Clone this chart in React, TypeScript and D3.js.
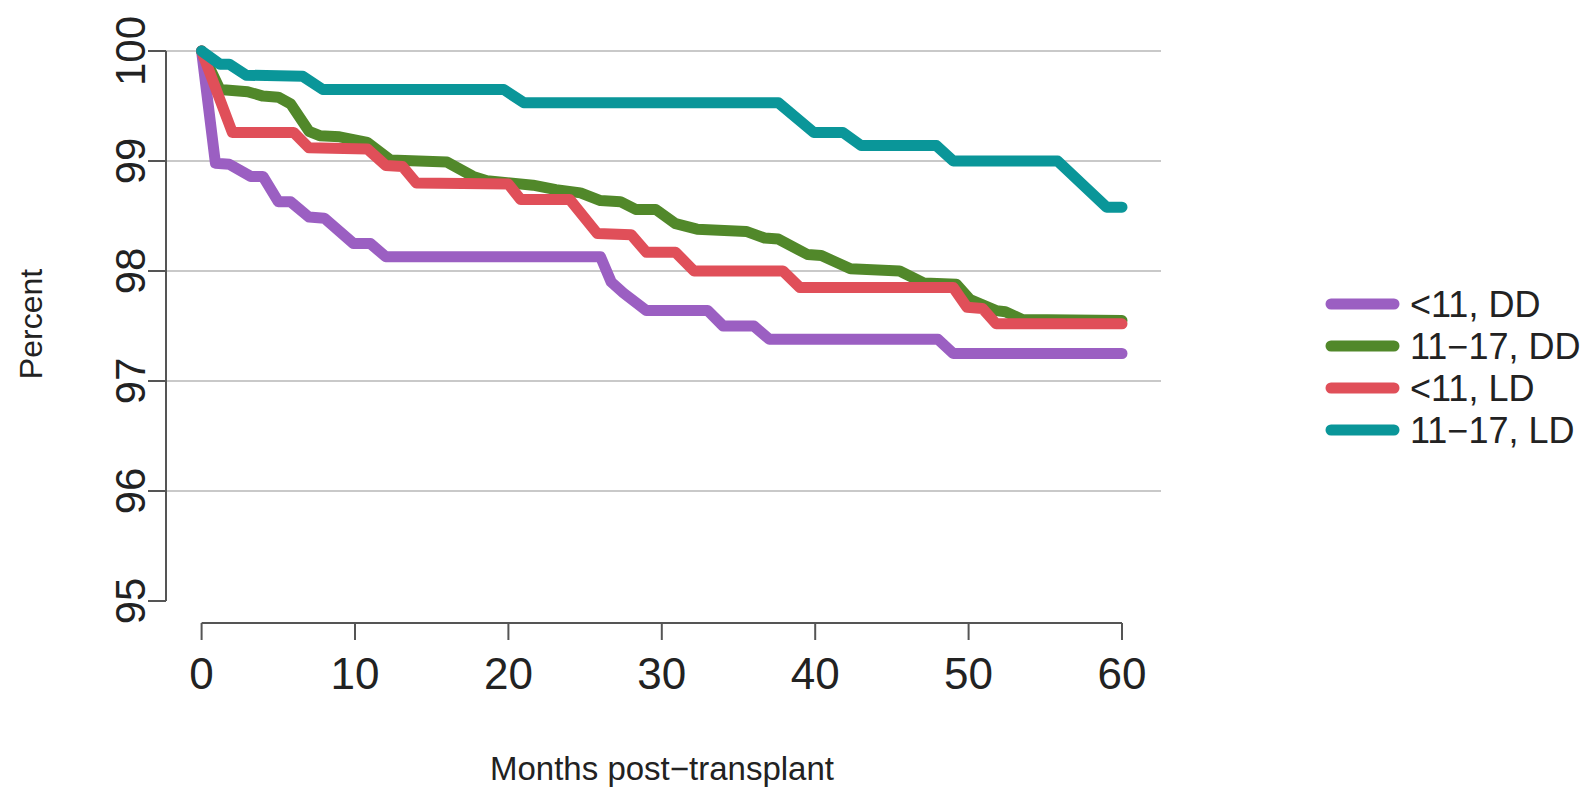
import React from 'react';
import * as d3 from 'd3';

// survival curves: [month, percent]
const lt11DD: [number, number][] = [
  [0, 100], [0.9, 98.98], [1.8, 98.97], [3.2, 98.86], [4, 98.86], [5, 98.63], [5.8, 98.63],
  [7, 98.49], [8, 98.48], [9.9, 98.25], [11, 98.25], [12, 98.13], [26, 98.13], [26.7, 97.9],
  [27.5, 97.8], [29, 97.64], [33, 97.64], [34, 97.5], [36, 97.5], [37, 97.38], [48, 97.38],
  [49, 97.25], [60, 97.25],
];
const a11to17DD: [number, number][] = [
  [0, 100], [1.2, 99.65], [3, 99.63], [4, 99.59], [5, 99.58], [5.8, 99.52], [7, 99.27],
  [7.7, 99.23], [9, 99.22], [10.8, 99.17], [12.3, 99.01], [16, 98.99], [17.7, 98.86],
  [18.6, 98.82], [21.6, 98.78], [23.1, 98.74], [24.7, 98.71], [26, 98.64], [27.3, 98.63],
  [28.3, 98.56], [29.6, 98.56], [30.9, 98.43], [32.3, 98.38], [35.5, 98.36], [36.7, 98.3],
  [37.6, 98.29], [39.5, 98.15], [40.4, 98.14], [42.3, 98.02], [45.5, 98.0], [47.1, 97.89],
  [49.2, 97.88], [50.1, 97.74], [51.8, 97.64], [52.4, 97.63], [53.5, 97.56], [60, 97.55],
];
const lt11LD: [number, number][] = [
  [0, 100], [2, 99.26], [6, 99.26], [7, 99.12], [10.8, 99.11], [12, 98.96], [13.1, 98.95],
  [14, 98.8], [20, 98.79], [20.8, 98.65], [24, 98.65], [25.8, 98.34], [28, 98.33], [29, 98.17],
  [30.9, 98.17], [32.1, 98.0], [37.9, 98.0], [39, 97.85], [49, 97.85], [49.9, 97.67],
  [50.9, 97.66], [51.8, 97.52], [60, 97.52],
];
const a11to17LD: [number, number][] = [
  [0, 100], [1.2, 99.88], [1.8, 99.88], [2.9, 99.78], [6.6, 99.77], [7.9, 99.65], [19.7, 99.65],
  [21, 99.53], [37.6, 99.53], [39.9, 99.26], [41.8, 99.26], [43, 99.14], [47.9, 99.14],
  [49, 99.0], [55.8, 99.0], [59, 98.58], [60, 98.58],
];

const seriesNames = ['<11, DD', '11\u221217, DD', '<11, LD', '11\u221217, LD'];
const seriesData = [lt11DD, a11to17DD, lt11LD, a11to17LD];
const seriesColors = ['#9b5fc2', '#51882a', '#e04f59', '#0a9699'];

const yTicks = [95, 96, 97, 98, 99, 100];
const yGrid = [96, 97, 98, 99, 100];
const xTicks = [0, 10, 20, 30, 40, 50, 60];

const W = 1596;
const H = 790;

export default function App() {
  const x = d3.scaleLinear().domain([0, 60]).range([201.6, 1122]);
  const y = d3.scaleLinear().domain([95, 100]).range([601, 51]);
  const line = d3.line<[number, number]>()
    .x(d => x(d[0]))
    .y(d => y(d[1]));

  const axisX = 166;
  const xAxisY = 623;
  const font = "'Liberation Sans', Arial, sans-serif";

  return (
    <svg width={W} height={H} style={{ position: 'absolute', left: 0, top: 0, background: '#fff' }}
      fontFamily={font}>
      {/* grid */}
      {yGrid.map(t => (
        <line key={'g' + t} x1={axisX} x2={1161} y1={y(t)} y2={y(t)} stroke="#c9c9c9" strokeWidth={2} />
      ))}
      {/* y axis */}
      <line x1={axisX} x2={axisX} y1={y(95)} y2={y(100)} stroke="#555" strokeWidth={2} />
      {yTicks.map(t => (
        <g key={'y' + t}>
          <line x1={148} x2={axisX} y1={y(t)} y2={y(t)} stroke="#555" strokeWidth={2} />
          <text transform={`translate(145,${y(t)}) rotate(-90)`} textAnchor="middle"
            fontSize={42} fill="#222">{t}</text>
        </g>
      ))}
      <text transform={`translate(42,${324}) rotate(-90)`} textAnchor="middle" fontSize={32} fill="#222">Percent</text>

      {/* x axis */}
      <line x1={x(0)} x2={x(60)} y1={xAxisY} y2={xAxisY} stroke="#555" strokeWidth={2} />
      {xTicks.map(t => (
        <g key={'x' + t}>
          <line x1={x(t)} x2={x(t)} y1={xAxisY} y2={xAxisY + 17} stroke="#555" strokeWidth={2} />
          <text x={x(t)} y={689} textAnchor="middle" fontSize={44} fill="#222">{t}</text>
        </g>
      ))}
      <text x={662} y={780} textAnchor="middle" fontSize={33} fill="#222">Months post{'\u2212'}transplant</text>

      {/* curves */}
      {seriesData.map((d, i) => (
        <path key={'s' + i} d={line(d) || ''} fill="none" stroke={seriesColors[i]} strokeWidth={11}
          strokeLinecap="round" strokeLinejoin="round" />
      ))}

      {/* legend */}
      {seriesNames.map((n, i) => {
        const ly = 304 + i * 42;
        return (
          <g key={'l' + i}>
            <line x1={1331} x2={1394} y1={ly} y2={ly} stroke={seriesColors[i]} strokeWidth={11} strokeLinecap="round" />
            <text x={1410} y={ly + 13} fontSize={36} fill="#222">{n}</text>
          </g>
        );
      })}
    </svg>
  );
}
